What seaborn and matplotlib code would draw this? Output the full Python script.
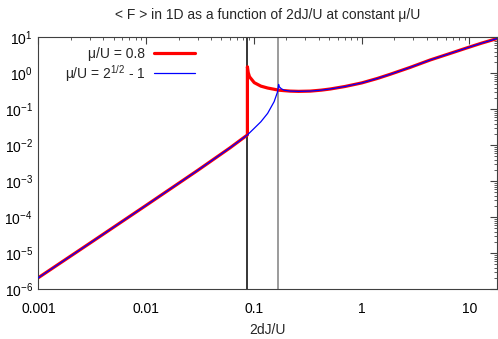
import numpy as np
import pandas as pd
import seaborn as sns
import matplotlib
matplotlib.use("Agg")
import matplotlib.pyplot as plt
from matplotlib.ticker import FixedLocator, FixedFormatter, LogLocator

# values
x_low = [0.001, 0.003, 0.01, 0.03, 0.06, 0.087]
f_low = [2.1e-6, 1.9e-5, 2.15e-4, 2.0e-3, 8.5e-3, 0.0194]

x_red_mid = [0.087, 0.0885, 0.091, 0.1007, 0.116, 0.134, 0.154, 0.1695, 0.19]
f_red_mid = [1.52, 1.05, 0.8, 0.55, 0.44, 0.39, 0.36, 0.34, 0.33]

x_blue_mid = [0.1007, 0.116, 0.134, 0.154, 0.166, 0.1695, 0.172, 0.18, 0.19]
f_blue_mid = [0.0297, 0.045, 0.077, 0.163, 0.31, 0.49, 0.42, 0.37, 0.34]

x_tail = [0.217, 0.26, 0.333, 0.42, 0.51, 0.7, 1.0, 1.4, 1.84, 2.8, 4.33, 6.5, 9.5, 13.0, 18.0]
f_tail = [0.32, 0.315, 0.32, 0.34, 0.366, 0.43, 0.54, 0.72, 0.94, 1.45, 2.35, 3.5, 5.1, 6.9, 9.2]

x_black_line = 0.087
x_gray_line = 0.169

xtick_vals = [0.001, 0.01, 0.1, 1, 10]
xtick_labels = ["0.001", "0.01", "0.1", "1", "10"]

red_label = "μ/U = 0.8"
blue_label = r"μ/U = 2$^{1/2}$ - 1"

red = pd.DataFrame({"x": x_low + x_red_mid + x_tail,
                    "F": f_low + f_red_mid + f_tail})
blue = pd.DataFrame({"x": x_low + x_blue_mid + x_tail,
                     "F": f_low + f_blue_mid + f_tail})

sns.set_style("white")
plt.rcParams["font.family"] = ["Liberation Sans", "DejaVu Sans"]
plt.rcParams["mathtext.fontset"] = "custom"
plt.rcParams["mathtext.rm"] = "Liberation Sans"

fig = plt.figure(figsize=(4.98, 3.39), dpi=100)
ax = fig.add_axes([0.077, 0.1466, 0.921, 0.7434])

ax.axvline(x_black_line, color="black", lw=1.1, zorder=1)
ax.axvline(x_gray_line, color="#808080", lw=1.1, zorder=1)

sns.lineplot(data=red, x="x", y="F", sort=False, estimator=None, color="#ff0000", lw=2.3,
             label=red_label, ax=ax, zorder=2)
sns.lineplot(data=blue, x="x", y="F", sort=False, estimator=None, color="#0000ff", lw=0.9,
             label=blue_label, ax=ax, zorder=3)

ax.set_xscale("log")
ax.set_yscale("log")
ax.set_xlim(0.001, 18)
ax.set_ylim(1e-6, 10)

ax.xaxis.set_major_locator(FixedLocator(xtick_vals))
ax.xaxis.set_major_formatter(FixedFormatter(xtick_labels))
ax.xaxis.set_minor_locator(LogLocator(base=10, subs=np.arange(2, 10), numticks=20))
ax.yaxis.set_major_locator(LogLocator(base=10, numticks=20))
ax.yaxis.set_minor_locator(LogLocator(base=10, subs=np.arange(2, 10), numticks=20))

ax.tick_params(which="both", direction="in", top=True, right=True, colors="#404040",
               labelcolor="black", labelsize=10)
ax.tick_params(which="major", length=5, width=0.8)
ax.tick_params(which="minor", length=2.5, width=0.6)
ax.tick_params(axis="x", which="major", pad=9)
ax.tick_params(axis="y", which="major", pad=4)
for s in ax.spines.values():
    s.set_color("#404040")
    s.set_linewidth(0.8)

ax.set_xlabel("2dJ/U", fontsize=10, labelpad=5)
ax.set_ylabel("")
ax.set_title("< F > in 1D as a function of 2dJ/U at constant μ/U", fontsize=10, pad=13)

ax.legend(loc="upper left", bbox_to_anchor=(0.045, 0.985), frameon=False, markerfirst=False,
          fontsize=10, handlelength=3.0, labelspacing=0.15, handletextpad=0.6,
          borderaxespad=0)

fig.savefig("out.png", dpi=100)
